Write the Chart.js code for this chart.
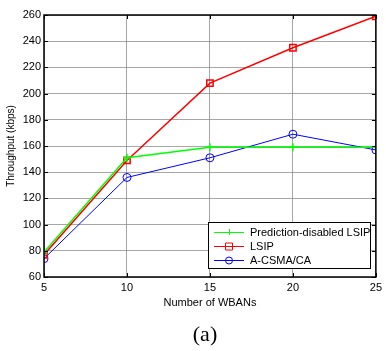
<!DOCTYPE html>
<html><head><meta charset="utf-8">
<script src="https://cdn.jsdelivr.net/npm/chart.js@4/dist/chart.umd.min.js"></script>
<style>html,body{margin:0;padding:0;background:#fff;}#wrap{width:386px;height:351px;position:relative;}</style>
</head><body><div id="wrap"><canvas id="c" width="386" height="351"></canvas></div>
<script>
const wbans = [5, 10, 15, 20, 25];
const predDisabledLSIP = [79, 151, 159, 159, 159];
const lsip = [77, 149, 208, 235, 259];
const acsma = [74, 136, 151, 169, 157];
const yTicks = [60, 80, 100, 120, 140, 160, 180, 200, 220, 240, 260];
const xTicks = [5, 10, 15, 20, 25];
const seriesNames = ['Prediction-disabled LSIP', 'LSIP', 'A-CSMA/CA'];

const toXY = arr => arr.map((v, i) => ({x: wbans[i], y: v}));

const frame = {
  id: 'frame',
  afterDraw(chart) {
    const {ctx, chartArea: a, scales} = chart;
    ctx.save();
    ctx.strokeStyle = '#000';
    ctx.lineWidth = 1;
    ctx.beginPath();
    yTicks.forEach(v => {
      const y = Math.round(scales.y.getPixelForValue(v)) + 0.5;
      ctx.moveTo(a.left, y); ctx.lineTo(a.left + 4, y);
      ctx.moveTo(a.right, y); ctx.lineTo(a.right - 4, y);
    });
    xTicks.forEach(v => {
      const x = Math.round(scales.x.getPixelForValue(v)) + 0.5;
      ctx.moveTo(x, a.bottom); ctx.lineTo(x, a.bottom - 4);
      ctx.moveTo(x, a.top); ctx.lineTo(x, a.top + 4);
    });
    ctx.stroke();
    ctx.lineWidth = 1.5;
    ctx.strokeRect(a.left, a.top, a.right - a.left, a.bottom - a.top);
    // legend
    const lx = 208, ly = 222, lw = 162, lh = 46;
    ctx.fillStyle = '#fff';
    ctx.fillRect(lx, ly, lw, lh);
    ctx.lineWidth = 1;
    ctx.strokeRect(lx + 0.5, ly + 0.5, lw, lh);
    ctx.font = '11px "Liberation Sans", Arial, sans-serif';
    ctx.textBaseline = 'middle';
    chart.data.datasets.forEach((ds, i) => {
      const y = ly + 10 + i * 14;
      ctx.strokeStyle = ds.borderColor;
      ctx.lineWidth = 1;
      ctx.beginPath(); ctx.moveTo(lx + 6, y + 0.5); ctx.lineTo(lx + 36, y + 0.5); ctx.stroke();
      const cx = lx + 21;
      ctx.beginPath();
      if (ds.pointStyle === 'cross') {
        ctx.moveTo(cx - 3, y + 0.5); ctx.lineTo(cx + 3, y + 0.5);
        ctx.moveTo(cx + 0.5, y - 3); ctx.lineTo(cx + 0.5, y + 3);
      } else if (ds.pointStyle === 'rect') {
        ctx.rect(cx - 3.5, y - 3, 7, 7);
      } else {
        ctx.arc(cx, y + 0.5, 3.5, 0, Math.PI * 2);
      }
      ctx.stroke();
      ctx.fillStyle = '#000';
      ctx.fillText(ds.label, lx + 42, y + 1);
    });
    // caption
    ctx.font = '22px "Liberation Serif", "Times New Roman", serif';
    ctx.textAlign = 'center';
    ctx.textBaseline = 'middle';
    ctx.fillStyle = '#000';
    ctx.fillText('(a)', 205, 335);
    ctx.restore();
  }
};

new Chart(document.getElementById('c'), {
  type: 'line',
  data: {
    datasets: [
      {label: seriesNames[0], data: toXY(predDisabledLSIP), borderColor: '#00ff00', backgroundColor: '#00ff00',
       pointStyle: 'cross', pointRadius: 4, borderWidth: 1.5, pointBorderWidth: 1.5},
      {label: seriesNames[1], data: toXY(lsip), borderColor: '#ff0000', backgroundColor: 'rgba(0,0,0,0)',
       pointStyle: 'rect', pointRadius: 4.5, borderWidth: 1.5, pointBorderWidth: 1.5},
      {label: seriesNames[2], data: toXY(acsma), borderColor: '#0000ff', backgroundColor: 'rgba(0,0,0,0)',
       pointStyle: 'circle', pointRadius: 4, borderWidth: 1, pointBorderWidth: 1}
    ]
  },
  options: {
    responsive: false,
    animation: false,
    events: [],
    layout: {padding: {left: 0, right: 10, top: 15, bottom: 41}},
    plugins: {legend: {display: false}, tooltip: {enabled: false}},
    scales: {
      x: {
        type: 'linear', min: 5, max: 25,
        afterBuildTicks: s => { s.ticks = xTicks.map(v => ({value: v})); },
        afterFit: s => { s.height = 33; },
        grid: {color: 'rgba(130,130,130,0.7)', lineWidth: 1, drawTicks: false},
        border: {display: false},
        ticks: {color: '#000', padding: 4, font: {family: '"Liberation Sans", Arial, sans-serif', size: 11}, maxRotation: 0},
        title: {display: true, text: 'Number of WBANs', color: '#000', padding: {top: 0, bottom: 0},
                font: {family: '"Liberation Sans", Arial, sans-serif', size: 11}}
      },
      y: {
        min: 60, max: 260,
        afterBuildTicks: s => { s.ticks = yTicks.map(v => ({value: v})); },
        afterFit: s => { s.width = 44; },
        grid: {color: 'rgba(130,130,130,0.7)', lineWidth: 1, drawTicks: false},
        border: {display: false},
        ticks: {color: '#000', padding: 3, font: {family: '"Liberation Sans", Arial, sans-serif', size: 11}},
        title: {display: true, text: 'Throughput (kbps)', color: '#000', padding: {top: 5, bottom: 0},
                font: {family: '"Liberation Sans", Arial, sans-serif', size: 10}}
      }
    }
  },
  plugins: [frame]
});
</script></body></html>
